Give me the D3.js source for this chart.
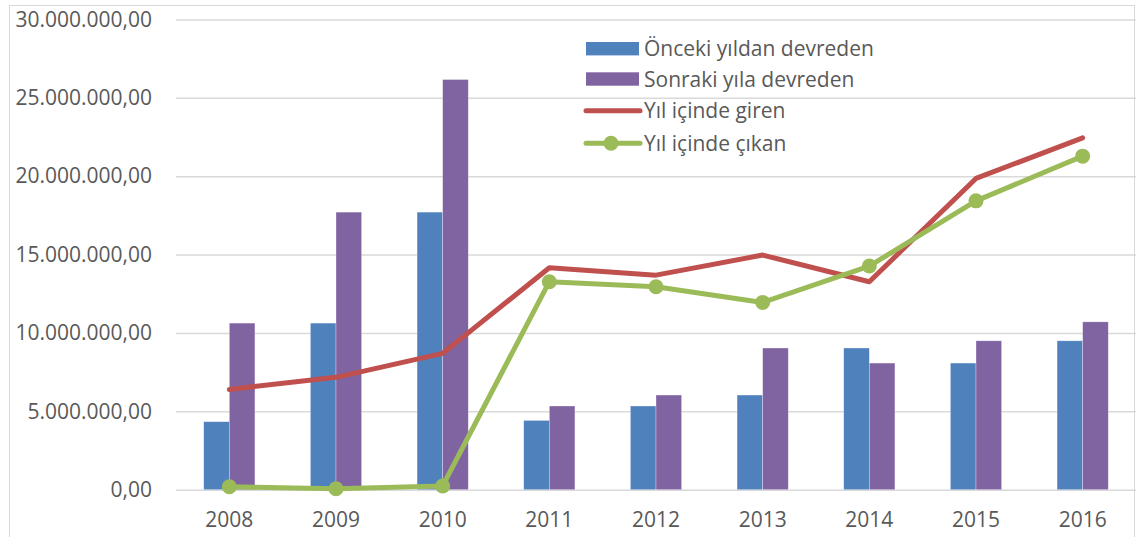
<!DOCTYPE html>
<html>
<head>
<meta charset="utf-8">
<script src="https://cdn.jsdelivr.net/npm/d3@7"></script>
<style>
  body { margin: 0; background: #fff; }
  text { font-family: "Open Sans", sans-serif; fill: #595959; }
</style>
</head>
<body>
<script>
// values
var years = ["2008", "2009", "2010", "2011", "2012", "2013", "2014", "2015", "2016"];
var onceki = [4340000, 10630000, 17710000, 4420000, 5340000, 6040000, 9040000, 8080000, 9500000];
var sonraki = [10630000, 17710000, 26170000, 5340000, 6040000, 9040000, 8080000, 9500000, 10710000];
var giren = [6400000, 7170000, 8700000, 14160000, 13690000, 14970000, 13270000, 19860000, 22450000];
var cikan = [190000, 60000, 240000, 13270000, 12950000, 11950000, 14270000, 18430000, 21280000];
var yTicks = [0, 5000000, 10000000, 15000000, 20000000, 25000000, 30000000];
var seriesNames = ["Önceki yıldan devreden", "Sonraki yıla devreden", "Yıl içinde giren", "Yıl içinde çıkan"];

var colors = { blue: "#4f81bd", purple: "#8064a2", red: "#c0504d", green: "#9bbb59" };

var W = 1136, H = 537;
var margin = {top: 19.5, right: 0, bottom: 47.3, left: 176},
    width = W - margin.left - margin.right,
    height = H - margin.top - margin.bottom;

var tr = d3.formatLocale({decimal: ",", thousands: ".", grouping: [3], currency: ["", " ₺"]});
var fmt = tr.format(",.2f");

var svg = d3.select("body").append("svg")
  .attr("width", W)
  .attr("height", H);

// chart frame
svg.append("rect")
  .attr("x", 9.5).attr("y", 5.5)
  .attr("width", 1125).attr("height", 560)
  .attr("fill", "none")
  .attr("stroke", "#d9d9d9")
  .attr("stroke-width", 1);

var g = svg.append("g")
  .attr("transform", "translate(" + margin.left + "," + margin.top + ")");

var x = d3.scaleBand()
  .domain(years)
  .range([0, width])
  .padding(0);

var y = d3.scaleLinear()
  .domain([0, 30000000])
  .range([height, 0]);

var groupW = x.bandwidth() * 0.48;
var x1 = d3.scaleBand()
  .domain([0, 1])
  .range([(x.bandwidth() - groupW) / 2, (x.bandwidth() + groupW) / 2]);

// gridlines + y labels
var yAxis = g.append("g")
  .call(d3.axisLeft(y).tickValues(yTicks).tickSize(-width).tickFormat(fmt).tickPadding(24));
yAxis.select(".domain").remove();
yAxis.selectAll(".tick line").attr("stroke", "#d9d9d9").attr("stroke-width", 1.5);
yAxis.selectAll(".tick text")
  .style("font-family", "'Open Sans', sans-serif")
  .attr("font-size", 21)
  .attr("fill", "#595959");

// x labels
var xAxis = g.append("g")
  .attr("transform", "translate(0," + height + ")")
  .call(d3.axisBottom(x).tickSize(0).tickPadding(22));
xAxis.select(".domain").remove();
xAxis.selectAll(".tick text")
  .style("font-family", "'Open Sans', sans-serif")
  .attr("font-size", 21)
  .attr("fill", "#595959");

// bars
var barData = [onceki, sonraki];
var barColors = [colors.blue, colors.purple];
barData.forEach(function(vals, k) {
  g.append("g").selectAll("rect")
    .data(vals)
    .enter().append("rect")
    .attr("x", function(d, i) { return x(years[i]) + x1(k); })
    .attr("y", function(d) { return y(d); })
    .attr("width", x1.bandwidth())
    .attr("height", function(d) { return height - y(d); })
    .attr("fill", barColors[k])
    .attr("stroke", "#fff")
    .attr("stroke-opacity", 0.5)
    .attr("stroke-width", 0.6);
});

// lines
var line = d3.line()
  .x(function(d, i) { return x(years[i]) + x.bandwidth() / 2; })
  .y(function(d) { return y(d); });

g.append("path")
  .datum(giren)
  .attr("d", line)
  .attr("fill", "none")
  .attr("stroke", colors.red)
  .attr("stroke-width", 5)
  .attr("stroke-linejoin", "round")
  .attr("stroke-linecap", "round");

g.append("path")
  .datum(cikan)
  .attr("d", line)
  .attr("fill", "none")
  .attr("stroke", colors.green)
  .attr("stroke-width", 5)
  .attr("stroke-linejoin", "round")
  .attr("stroke-linecap", "round");

g.append("g").selectAll("circle")
  .data(cikan)
  .enter().append("circle")
  .attr("cx", function(d, i) { return x(years[i]) + x.bandwidth() / 2; })
  .attr("cy", function(d) { return y(d); })
  .attr("r", 7.5)
  .attr("fill", colors.green);

// legend
var legend = svg.append("g").attr("transform", "translate(586,0)");
var rowY = [48.7, 79, 110.7, 143.3];
seriesNames.forEach(function(name, i) {
  var row = legend.append("g").attr("transform", "translate(0," + rowY[i] + ")");
  if (i < 2) {
    row.append("rect")
      .attr("x", 0).attr("y", -6.7)
      .attr("width", 53).attr("height", 13.4)
      .attr("fill", barColors[i]);
  } else {
    row.append("line")
      .attr("x1", 0).attr("x2", 54)
      .attr("stroke", i == 2 ? colors.red : colors.green)
      .attr("stroke-width", 5)
      .attr("stroke-linecap", "round");
    if (i == 3) {
      row.append("circle").attr("cx", 25).attr("r", 7.5).attr("fill", colors.green);
    }
  }
  row.append("text")
    .attr("x", 58)
    .attr("y", 7.5)
    .attr("font-size", 21)
    .text(name);
});
</script>
</body>
</html>
